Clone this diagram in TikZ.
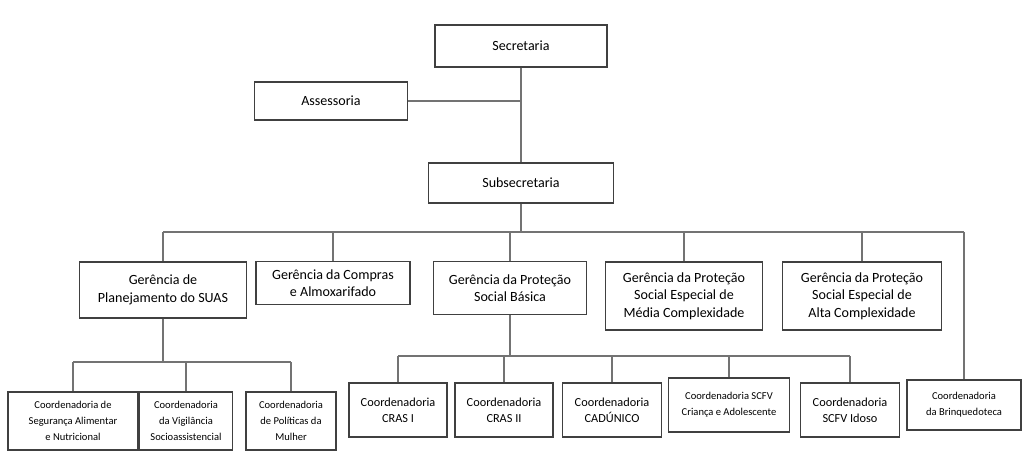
\documentclass[tikz,border=0pt]{standalone}
\usepackage{fontspec}
\setmainfont{Carlito}
\begin{document}
\begin{tikzpicture}[x=0.02cm,y=-0.02cm,
  box/.style={draw=black!75, line width=0.8pt, align=center, inner sep=1pt, font=\fontsize{8}{10}\selectfont},
  sbox/.style={box, font=\fontsize{6}{9}\selectfont},
  link/.style={draw=black!55, line width=0.6pt}]
  \useasboundingbox (0,0) rectangle (1024,451);

  % top levels
  \node[box, minimum width=3.44cm, minimum height=0.84cm] (sec) at (521,46) {Secretaria};
  \node[box, minimum width=3.06cm, minimum height=0.76cm] (ass) at (331,101) {Assessoria};
  \node[box, minimum width=3.7cm, minimum height=0.8cm] (sub) at (521,183) {Subsecretaria};

  \coordinate (tr) at (521,101);
  \draw[link] (sec) -- (sub);
  \draw[link] (ass) -- (tr);

  % gerencias
  \node[box, minimum width=3.34cm, minimum height=1.12cm] (g1) at (163,290) {Gerência de\\Planejamento do SUAS};
  \node[box, minimum width=3.08cm, minimum height=0.86cm] (g2) at (333,283) {Gerência da Compras\\e Almoxarifado};
  \node[box, minimum width=3.06cm, minimum height=1.06cm] (g3) at (510,288) {Gerência da Proteção\\Social Básica};
  \node[box, minimum width=3.14cm, minimum height=1.36cm] (g4) at (684,296) {Gerência da Proteção\\Social Especial de\\Média Complexidade};
  \node[box, minimum width=3.18cm, minimum height=1.36cm] (g5) at (862,296) {Gerência da Proteção\\Social Especial de\\Alta Complexidade};

  % coordenadorias
  \node[sbox, minimum width=2.6cm, minimum height=1.16cm] (c1) at (73,421) {Coordenadoria de\\Segurança Alimentar\\e Nutricional};
  \node[sbox, minimum width=1.86cm, minimum height=1.16cm] (c2) at (186,421) {Coordenadoria\\da Vigilância\\Socioassistencial};
  \node[sbox, minimum width=1.8cm, minimum height=1.16cm] (c3) at (291,421) {Coordenadoria\\de Políticas da\\Mulher};

  \node[sbox, font=\fontsize{7}{9}\selectfont, minimum width=1.96cm, minimum height=1.08cm] (cr1) at (398,410) {Coordenadoria\\CRAS I};
  \node[sbox, font=\fontsize{7}{9}\selectfont, minimum width=1.96cm, minimum height=1.08cm] (cr2) at (504,410) {Coordenadoria\\CRAS II};
  \node[sbox, font=\fontsize{7}{9}\selectfont, minimum width=1.98cm, minimum height=1.08cm] (cad) at (612,410) {Coordenadoria\\CADÚNICO};
  \node[sbox, minimum width=2.42cm, minimum height=1.08cm] (scc) at (729,405) {Coordenadoria SCFV\\Criança e Adolescente};
  \node[sbox, font=\fontsize{7}{9}\selectfont, minimum width=1.98cm, minimum height=1.08cm] (sci) at (850,410) {Coordenadoria\\SCFV Idoso};
  \node[sbox, minimum width=2.28cm, minimum height=1.0cm] (brq) at (964,405) {Coordenadoria\\da Brinquedoteca};

  \coordinate (bus) at (521,232);
  \draw[link] (sub) -- (bus);
  \draw[link] (g1.north |- bus) -- (brq.north |- bus);
  \foreach \g in {g1,g2,g3,g4,g5}
    \draw[link] (\g.north |- bus) -- (\g.north);

  \coordinate (b1) at (163,362);
  \coordinate (b3) at (510,356);
  \draw[link] (g1) -- (b1);
  \draw[link] (c1.north |- b1) -- (c3.north |- b1);
  \foreach \c in {c1,c2,c3}
    \draw[link] (\c.north |- b1) -- (\c.north);

  \draw[link] (g3) -- (b3);
  \draw[link] (cr1.north |- b3) -- (sci.north |- b3);
  \foreach \c in {cr1,cr2,cad,scc,sci}
    \draw[link] (\c.north |- b3) -- (\c.north);

  \draw[link] (brq.north |- bus) -- (brq.north);
\end{tikzpicture}
\end{document}
